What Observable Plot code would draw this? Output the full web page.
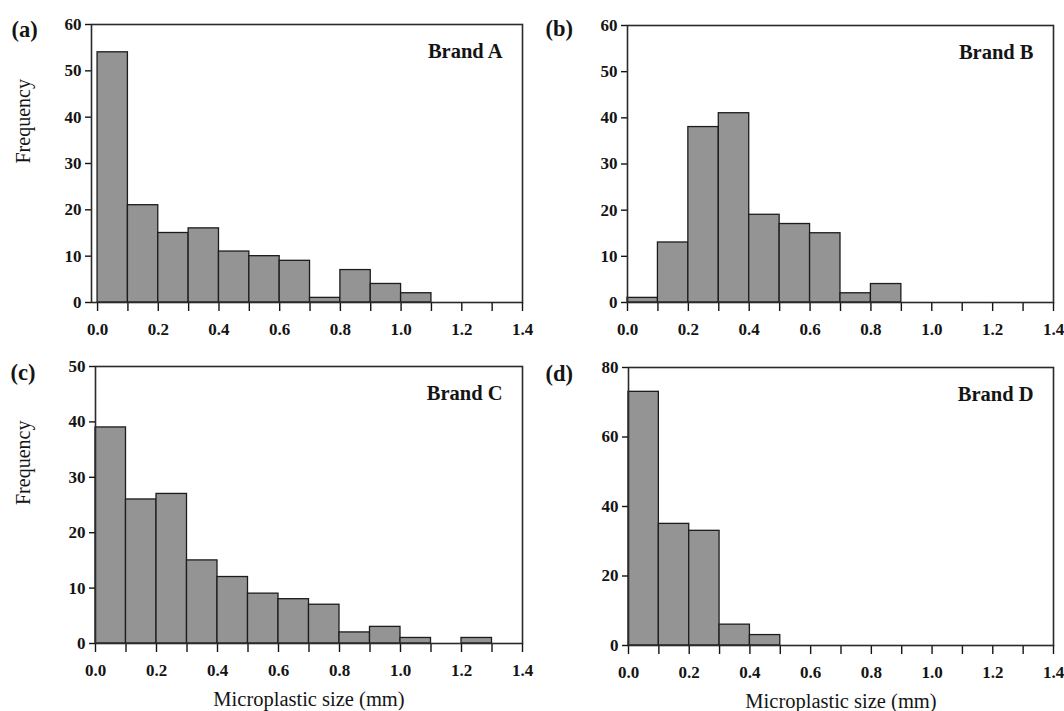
<!DOCTYPE html>
<html>
<head>
<meta charset="utf-8">
<script src="https://cdn.jsdelivr.net/npm/d3@7"></script>
<script src="https://cdn.jsdelivr.net/npm/@observablehq/plot@0.6"></script>
<style>
  html, body { margin: 0; padding: 0; background: #fff; }
  #wrap { position: relative; width: 1064px; height: 711px; overflow: hidden; }
  #wrap svg { position: absolute; }
  #wrap svg text { font-family: 'Liberation Serif', 'Times New Roman', Times, serif; }
  #wrap g[aria-label="x-axis tick label"], #wrap g[aria-label="y-axis tick label"] {
    font-weight: bold; font-size: 17px;
  }
</style>
</head>
<body>
<div id="wrap"></div>
<script>
// Bin start values (mm), each bin 0.1 mm wide
const binA = [0.0, 0.1, 0.2, 0.3, 0.4, 0.5, 0.6, 0.7, 0.8, 0.9, 1.0];
const countA = [54, 21, 15, 16, 11, 10, 9, 1, 7, 4, 2];

const binB = [0.0, 0.1, 0.2, 0.3, 0.4, 0.5, 0.6, 0.7, 0.8];
const countB = [1, 13, 38, 41, 19, 17, 15, 2, 4];

const binC = [0.0, 0.1, 0.2, 0.3, 0.4, 0.5, 0.6, 0.7, 0.8, 0.9, 1.0, 1.1, 1.2];
const countC = [39, 26, 27, 15, 12, 9, 8, 7, 2, 3, 1, 0, 1];

const binD = [0.0, 0.1, 0.2, 0.3, 0.4];
const countD = [73, 35, 33, 6, 3];

const binWidth = 0.1;

const xTickLabels = [0.0, 0.2, 0.4, 0.6, 0.8, 1.0, 1.2, 1.4];
const xMinorTicks = [0.1, 0.3, 0.5, 0.7, 0.9, 1.1, 1.3];
const yTicks60 = [0, 10, 20, 30, 40, 50, 60];
const yTicks50 = [0, 10, 20, 30, 40, 50];
const yTicks80 = [0, 20, 40, 60, 80];

const panelLabels = ["(a)", "(b)", "(c)", "(d)"];
const brandNames = ["Brand A", "Brand B", "Brand C", "Brand D"];
const yTitle = "Frequency";
const xTitle = "Microplastic size (mm)";

const SERIF = "'Liberation Serif', 'Times New Roman', Times, serif";

const panels = [
  {bins: binA, counts: countA, yMax: 60, yTicks: yTicks60, x0: -0.02,
   left: 0, top: 0, width: 532, height: 340,
   mL: 91, mR: 10, mT: 24, mB: 38, yTitle: true, xTitle: false, labDx: -80, labDy: 5, ytDx: -68},
  {bins: binB, counts: countB, yMax: 60, yTicks: yTicks60, x0: 0,
   left: 532, top: 0, width: 532, height: 340,
   mL: 95, mR: 11, mT: 25, mB: 38, yTitle: false, xTitle: false, labDx: -82, labDy: 3, ytDx: 0},
  {bins: binC, counts: countC, yMax: 50, yTicks: yTicks50, x0: 0,
   left: 0, top: 340, width: 532, height: 371,
   mL: 95, mR: 10, mT: 26, mB: 68, yTitle: true, xTitle: true, labDx: -85, labDy: 6, ytDx: -72},
  {bins: binD, counts: countD, yMax: 80, yTicks: yTicks80, x0: 0,
   left: 532, top: 340, width: 532, height: 371,
   mL: 96, mR: 11, mT: 27, mB: 66, yTitle: false, xTitle: true, labDx: -83, labDy: 6, ytDx: 0}
];

const wrap = document.getElementById("wrap");

panels.forEach((p, i) => {
  const data = p.bins.map((b, j) => ({x1: b, x2: b + binWidth, count: p.counts[j]}));
  const marks = [
    Plot.rect(data, {x1: "x1", x2: "x2", y1: 0, y2: "count",
      fill: "#949494", stroke: "#1c1c1c", strokeWidth: 1.3}),
    Plot.axisX(xTickLabels, {tickSize: 9, tickPadding: 11, tickFormat: d3.format(".1f"),
      label: null, fontSize: 17, fontWeight: "bold", fontFamily: SERIF, strokeWidth: 1.4}),
    Plot.axisX(xMinorTicks, {tickSize: 9, tickFormat: () => "", label: null, strokeWidth: 1.4}),
    Plot.axisY(p.yTicks, {tickSize: 6, tickPadding: 4, label: null,
      fontSize: 17, fontWeight: "bold", fontFamily: SERIF, strokeWidth: 1.4}),
    Plot.frame({stroke: "#2a2a2a", strokeWidth: 1.6}),
    Plot.text([brandNames[i]], {text: d => d, frameAnchor: "top-right", textAnchor: "end",
      lineAnchor: "middle", dx: -20, dy: 27, fontSize: 20.5, fontWeight: "bold", fontFamily: SERIF}),
    Plot.text([panelLabels[i]], {text: d => d, frameAnchor: "top-left", textAnchor: "start",
      lineAnchor: "middle", dx: p.labDx, dy: p.labDy, fontSize: 22.5, fontWeight: "bold", fontFamily: SERIF})
  ];
  if (p.yTitle) {
    marks.push(Plot.text([yTitle], {text: d => d, frameAnchor: "left", rotate: -90,
      lineAnchor: "middle", dx: p.ytDx, fontSize: 20, fontWeight: "normal", fontFamily: SERIF}));
  }
  if (p.xTitle) {
    marks.push(Plot.text([xTitle], {text: d => d, frameAnchor: "bottom",
      lineAnchor: "middle", dy: 56, fontSize: 20.5, fontWeight: "normal", fontFamily: SERIF}));
  }
  const svg = Plot.plot({
    width: p.width,
    height: p.height,
    marginLeft: p.mL,
    marginRight: p.mR,
    marginTop: p.mT,
    marginBottom: p.mB,
    x: {domain: [p.x0, 1.4]},
    y: {domain: [0, p.yMax]},
    style: {fontFamily: SERIF, fontSize: "17px", color: "#141414", background: "transparent", overflow: "visible"},
    marks
  });
  svg.style.left = p.left + "px";
  svg.style.top = p.top + "px";
  svg.style.position = "absolute";
  wrap.appendChild(svg);
});
</script>
</body>
</html>
